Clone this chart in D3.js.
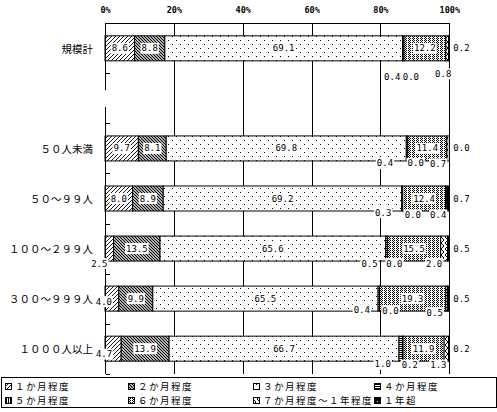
<!DOCTYPE html>
<html>
<head>
<meta charset="utf-8">
<script src="https://cdn.jsdelivr.net/npm/d3@7"></script>
<style>
  html, body { margin: 0; padding: 0; background: #fff; }
  svg { display: block; }
</style>
</head>
<body>
<div id="chart"></div>
<script>
// ---------------- data ----------------
const categories = ["規模計", "", "５０人未満", "５０～９９人", "１００～２９９人", "３００～９９９人", "１０００人以上"];
const seriesNames = ["１か月程度", "２か月程度", "３か月程度", "４か月程度", "５か月程度", "６か月程度", "７か月程度～１年程度", "１年超"];
const month1   = [8.6, null, 9.7, 8.0, 2.5, 4.0, 4.7];
const month2   = [8.8, null, 8.1, 8.9, 13.5, 9.9, 13.9];
const month3   = [69.1, null, 69.8, 69.2, 65.6, 65.5, 66.7];
const month4   = [0.4, null, 0.4, 0.3, 0.5, 0.4, 1.0];
const month5   = [0.0, null, 0.0, 0.0, 0.0, 0.0, 0.2];
const month6   = [12.2, null, 11.4, 12.4, 15.5, 19.3, 11.9];
const month7to12 = [0.8, null, 0.7, 0.4, 2.0, 0.5, 1.3];
const overYear = [0.2, null, 0.0, 0.7, 0.5, 0.5, 0.2];
const tickValues = [0, 20, 40, 60, 80, 100];
const tickLabels = ["0%", "20%", "40%", "60%", "80%", "100%"];

const seriesValues = [month1, month2, month3, month4, month5, month6, month7to12, overYear];

// label nudges for small segments: [categoryIndex][seriesIndex] = [dx, dy] (style only)
const labelNudge = {
  0: {3: [-11, 28.5], 4: [7, 28.5], 6: [-4, 25.5]},
  2: {3: [-22, 15], 4: [8, 15], 6: [-10, 15.5]},
  3: {3: [-19, 14], 4: [10, 16.5], 6: [-8, 16.5]},
  4: {0: [-10, 15], 3: [-17, 15], 4: [7, 15], 6: [-10, 15]},
  5: {0: [-8, 3], 3: [-17, 11], 4: [11, 12], 6: [-12, 14]},
  6: {0: [-9, 5.5], 3: [-18, 15.5], 4: [7, 16.5], 6: [-8, 16.5]}
};

// ---------------- setup ----------------
const W = 497, H = 412;
const svg = d3.select("#chart").append("svg").attr("width", W).attr("height", H)
  .attr("font-family", "'DejaVu Sans Mono', monospace");

const x = d3.scaleLinear().domain([0, 100]).range([105, 449.3]);
const y = d3.scaleBand().domain(categories).range([23.3, 373.7]).paddingInner(0.5).paddingOuter(0.25);

// ---------------- patterns ----------------
const defs = svg.append("defs");
function pat(id, w, h, draw) {
  const p = defs.append("pattern").attr("id", id).attr("patternUnits", "userSpaceOnUse")
    .attr("width", w).attr("height", h);
  draw(p);
}
pat("p0", 4, 4, p => {
  p.append("rect").attr("width", 4).attr("height", 4).attr("fill", "#fff");
  p.append("path").attr("d", "M0,4 L4,0 M-1,1 L1,-1 M3,5 L5,3").attr("stroke", "#000").attr("stroke-width", 0.9);
});
pat("p1", 3, 3, p => {
  p.append("rect").attr("width", 3).attr("height", 3).attr("fill", "#fff");
  p.append("path").attr("d", "M0,0 L3,3 M-1,2 L1,4 M2,-1 L4,1").attr("stroke", "#000").attr("stroke-width", 1.2);
});
pat("p2", 8, 8, p => {
  p.append("rect").attr("width", 8).attr("height", 8).attr("fill", "#fff");
  p.append("rect").attr("x", 0).attr("y", 0).attr("width", 1).attr("height", 1).attr("fill", "#000");
  p.append("rect").attr("x", 4).attr("y", 4).attr("width", 1).attr("height", 1).attr("fill", "#000");
});
pat("p3", 2, 2, p => {
  p.append("rect").attr("width", 2).attr("height", 2).attr("fill", "#fff");
  p.append("rect").attr("width", 2).attr("height", 1).attr("fill", "#000");
});
pat("p4", 2, 2, p => {
  p.append("rect").attr("width", 2).attr("height", 2).attr("fill", "#fff");
  p.append("rect").attr("width", 1).attr("height", 2).attr("fill", "#000");
});
pat("p5", 4, 2, p => {
  p.append("rect").attr("width", 4).attr("height", 2).attr("fill", "#fff");
  [[0,0],[2,0],[1,1]].forEach(([a,b]) =>
    p.append("rect").attr("x", a).attr("y", b).attr("width", 1).attr("height", 1).attr("fill", "#000"));
});
pat("p6", 4, 6, p => {
  p.append("rect").attr("width", 4).attr("height", 6).attr("fill", "#fff");
  p.append("path").attr("d", "M4,0 L1,3 L4,6").attr("fill", "none").attr("stroke", "#000").attr("stroke-width", 1);
});
pat("p7", 4, 4, p => {
  p.append("rect").attr("width", 4).attr("height", 4).attr("fill", "#000");
  p.append("rect").attr("x", 1).attr("y", 1).attr("width", 1).attr("height", 1).attr("fill", "#fff");
});

// ---------------- gridlines ----------------
const plotTop = y.range()[0], plotBottom = y.range()[1];
svg.append("g").selectAll("line").data(tickValues.filter(v => v > 0)).join("line")
  .attr("x1", d => Math.round(x(d)) + 0.5).attr("x2", d => Math.round(x(d)) + 0.5)
  .attr("y1", plotTop).attr("y2", plotBottom)
  .attr("stroke", "#000").attr("stroke-width", 1).attr("shape-rendering", "crispEdges");

// ---------------- bars ----------------
const rows = categories.map((c, ci) => {
  const vals = seriesValues.map(s => s[ci]);
  if (vals[0] == null) return null;
  const total = d3.sum(vals);
  let cum = 0;
  return vals.map((v, si) => {
    const x0 = cum / total * 100; cum += v;
    const x1 = cum / total * 100;
    return {ci, si, v, x0, x1, cat: c};
  });
}).filter(Boolean);

const barG = svg.append("g");
rows.forEach(segs => {
  barG.selectAll(null).data(segs).join("rect")
    .attr("x", d => x(d.x0)).attr("width", d => Math.max(0, x(d.x1) - x(d.x0)))
    .attr("y", d => y(d.cat)).attr("height", y.bandwidth())
    .attr("fill", d => `url(#p${d.si})`)
    .attr("stroke", "#000").attr("stroke-width", 1);
});

// ---------------- left axis (inward ticks, broken) ----------------
const axG = svg.append("g").attr("stroke", "#000").attr("stroke-width", 1).attr("shape-rendering", "crispEdges");
const ax0 = Math.round(x(0)) + 0.5;
const blankTop = y(""), blankBot = y("") + y.bandwidth();
axG.append("line").attr("x1", ax0).attr("x2", ax0).attr("y1", plotTop).attr("y2", blankTop + 4);
axG.append("line").attr("x1", ax0).attr("x2", ax0).attr("y1", blankBot - 4).attr("y2", plotBottom);
const step = y.step();
const bounds = categories.map(c => y(c) + y.bandwidth() + (step - y.bandwidth()) / 2);
axG.selectAll(".tk").data(bounds).join("line")
  .attr("x1", ax0).attr("x2", ax0 + 4)
  .attr("y1", d => Math.round(d) + 0.5).attr("y2", d => Math.round(d) + 0.5);

// ---------------- top axis ----------------
const xAxis = d3.axisTop(x).tickValues(tickValues).tickSize(0).tickPadding(10.5)
  .tickFormat((d, i) => tickLabels[i]);
const xg = svg.append("g").attr("transform", `translate(0,${plotTop})`).call(xAxis);
xg.select(".domain").attr("stroke", "#000").attr("shape-rendering", "crispEdges");
xg.selectAll("text").attr("font-family", "'DejaVu Sans Mono', monospace")
  .attr("font-weight", "bold").attr("font-size", 8.5).attr("fill", "#000");

// ---------------- category labels ----------------
svg.append("g").selectAll("text").data(categories.filter(c => c !== "")).join("text")
  .attr("x", 93).attr("y", d => y(d) + y.bandwidth() / 2)
  .attr("text-anchor", "end").attr("dominant-baseline", "central")
  .attr("font-family", "'Noto Sans CJK JP', sans-serif").attr("font-size", 10.5)
  .text(d => d);

// ---------------- value labels ----------------
const lblG = svg.append("g");
const fmt = d3.format(".1f");
rows.forEach(segs => {
  segs.forEach(d => {
    const cy = y(d.cat) + y.bandwidth() / 2;
    let lx, ly, anchor = "middle";
    const nud = labelNudge[d.ci] && labelNudge[d.ci][d.si];
    if (d.si === 7) {
      lx = x(100) + 4; ly = cy; anchor = "start";
    } else if (nud) {
      lx = x((d.x0 + d.x1) / 2) + nud[0]; ly = cy + nud[1];
    } else {
      lx = x((d.x0 + d.x1) / 2); ly = cy;
    }
    const g = lblG.append("g");
    const t = g.append("text").attr("x", lx).attr("y", ly)
      .attr("text-anchor", anchor).attr("dominant-baseline", "central")
      .attr("font-size", 9).attr("fill", "#000").text(fmt(d.v));
    const bb = t.node().getBBox();
    g.insert("rect", "text").attr("x", bb.x - 1).attr("y", ly - 5.5)
      .attr("width", bb.width + 2).attr("height", 11).attr("fill", "#fff");
  });
});

// ---------------- legend ----------------
const lg = svg.append("g");
lg.append("rect").attr("x", 1.5).attr("y", 377.5).attr("width", 494.5).attr("height", 29.5)
  .attr("fill", "#fff").attr("stroke", "#000").attr("stroke-width", 1).attr("shape-rendering", "crispEdges");
const colX = [5, 128, 253, 374];
const rowY = [385.5, 399.5];
seriesNames.forEach((name, i) => {
  const cx = colX[i % 4], cy = rowY[Math.floor(i / 4)];
  lg.append("rect").attr("x", cx + 0.5).attr("y", Math.round(cy - 3) + 0.5).attr("width", 6).attr("height", 6)
    .attr("fill", `url(#p${i})`).attr("stroke", "#000").attr("stroke-width", 1).attr("shape-rendering", "crispEdges");
  lg.append("text").attr("x", cx + 10).attr("y", cy).attr("dominant-baseline", "central")
    .attr("font-family", "'Noto Sans CJK JP', sans-serif").attr("font-size", 9.5)
    .attr("letter-spacing", 1.5).text(name);
});
</script>
</body>
</html>
